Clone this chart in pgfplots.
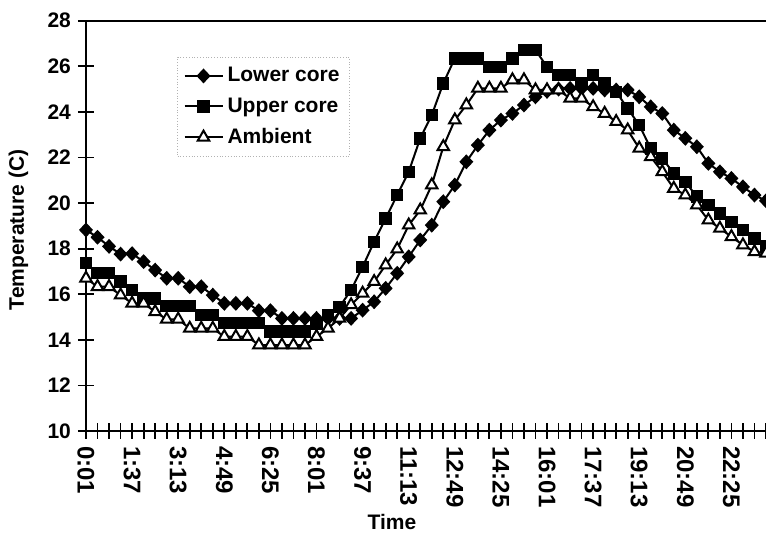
\documentclass[border=0pt]{standalone}
\usepackage{pgfplots}
\usepackage{pgfplotstable}
\usepackage{fontspec}
\setmainfont{Liberation Sans}
\pgfplotsset{compat=1.18}
\pgfplotstableread{
i lower upper amb
0 18.82 17.36 16.70
1 18.50 16.92 16.33
2 18.10 16.92 16.33
3 17.76 16.55 15.96
4 17.78 16.18 15.60
5 17.43 15.82 15.60
6 17.06 15.82 15.23
7 16.70 15.48 14.90
8 16.70 15.48 14.90
9 16.33 15.48 14.50
10 16.33 15.09 14.50
11 15.96 15.09 14.50
12 15.60 14.75 14.14
13 15.60 14.75 14.14
14 15.60 14.75 14.14
15 15.28 14.75 13.77
16 15.28 14.36 13.77
17 14.94 14.36 13.77
18 14.94 14.36 13.77
19 14.94 14.36 13.77
20 14.94 14.72 14.14
21 14.94 15.09 14.50
22 14.94 15.45 14.94
23 14.94 16.18 15.53
24 15.30 17.20 16.04
25 15.67 18.30 16.55
26 16.26 19.33 17.28
27 16.92 20.35 17.98
28 17.64 21.37 19.03
29 18.38 22.84 19.69
30 19.03 23.86 20.79
31 20.06 25.25 22.47
32 20.79 26.35 23.64
33 21.81 26.35 24.30
34 22.54 26.35 25.03
35 23.20 25.98 25.03
36 23.64 25.98 25.03
37 23.93 26.35 25.40
38 24.30 26.71 25.40
39 24.66 26.71 24.96
40 24.90 25.98 24.96
41 25.00 25.61 24.96
42 25.03 25.61 24.59
43 25.03 25.25 24.59
44 25.03 25.61 24.22
45 24.96 25.25 23.93
46 24.96 24.88 23.57
47 24.96 24.15 23.20
48 24.66 23.42 22.40
49 24.22 22.40 22.03
50 23.93 21.96 21.37
51 23.20 21.30 20.64
52 22.84 20.93 20.35
53 22.47 20.28 19.91
54 21.74 19.91 19.25
55 21.37 19.55 18.89
56 21.08 19.18 18.52
57 20.71 18.82 18.16
58 20.35 18.45 17.86
59 20.10 18.10 17.80
}\datatable
\begin{document}
\begin{tikzpicture}
\begin{axis}[
  at={(0,0)}, anchor=south west,
  scale only axis,
  width=340pt, height=205.15pt,
  xmin=0, xmax=59, ymin=10, ymax=28,
  axis lines*=left,
  axis line style={line width=1pt, -},
  xtick={0,4,...,56},
  xticklabels={0:01,1:37,3:13,4:49,6:25,8:01,9:37,11:13,12:49,14:25,16:01,17:37,19:13,20:49,22:25},
  minor xtick={0,...,59},
  ytick={10,12,...,28},
  tick align=center,
  major tick length=8pt,
  minor tick length=8pt,
  every tick/.style={black, line width=0.9pt},
  /pgf/number format/assume math mode=true,
  tick label style={font=\bfseries\fontsize{10.5}{12}\selectfont},
  xticklabel style={rotate=-90, anchor=west, font=\bfseries\fontsize{12}{14}\selectfont},
  yticklabel style={anchor=east},
  xlabel={Time},
  ylabel={Temperature (C)},
  label style={font=\bfseries\fontsize{10.5}{12}\selectfont},
  xlabel style={at={(axis description cs:0.45,0)}, anchor=south, yshift=-53pt},
  ylabel style={at={(axis description cs:-0.124,0.49)}, anchor=north},
  legend style={at={(axis description cs:0.134,0.912)}, anchor=north west,
    draw=black!30, densely dotted, line width=0.4pt,
    font=\bfseries\fontsize{10.5}{12}\selectfont,
    row sep=2.5pt, inner xsep=3pt, inner ysep=3pt},
  legend cell align=left,
  legend image code/.code={
    \draw[#1, solid] (0pt,0pt) -- (19pt,0pt);
    \draw[#1, solid] plot coordinates {(9.5pt,0pt)};
  },
]
\addplot[black, solid, line width=1pt, mark=diamond*, mark size=3pt,
  mark options={solid, fill=black, xscale=1.25}] table[x=i, y=lower] {\datatable};
\addlegendentry{Lower core}
\addplot[black, solid, line width=1pt, mark=square*, mark size=2.6pt,
  mark options={solid, fill=black}] table[x=i, y=upper] {\datatable};
\addlegendentry{Upper core}
\addplot[black, solid, line width=1pt, mark=triangle*, mark size=3.3pt,
  mark options={solid, fill=white, line width=1pt}] table[x=i, y=amb] {\datatable};
\addlegendentry{Ambient}
\draw[line width=0.9pt] (rel axis cs:0,1) -- (rel axis cs:1,1);
\end{axis}
\pgfresetboundingbox
\path[use as bounding box] (-43pt,-52pt) rectangle (340pt,215.5pt);
\end{tikzpicture}
\end{document}
